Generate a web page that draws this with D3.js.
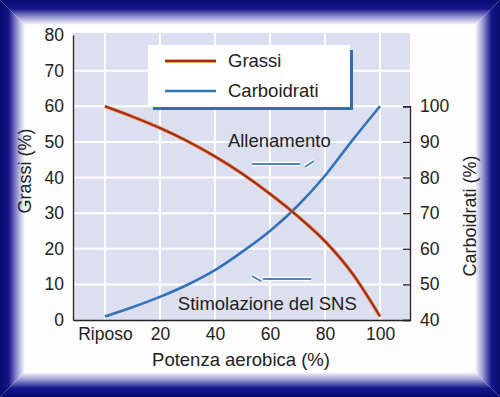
<!DOCTYPE html>
<html>
<head>
<meta charset="utf-8">
<script src="https://cdn.jsdelivr.net/npm/d3@7"></script>
<style>
  body { margin: 0; background: #fff; }
  svg { display: block; font-family: "Liberation Sans", Arial, sans-serif; }
  .axis text { fill: #222; font-size: 17.5px; }
  .axis path, .axis line { stroke: #222; stroke-width: 1.3; }
</style>
</head>
<body>
<svg width="500" height="397"></svg>
<script>
// potenza aerobica (%), 0 = riposo
const potenza = [0, 10, 20, 30, 40, 50, 60, 70, 80, 90, 100];
const grassi = [60, 57.1, 53.9, 50.2, 45.9, 41, 35.4, 29.2, 22.1, 13, 1];
const carboidrati = [41, 43.6, 46.5, 49.9, 54, 59.2, 65, 72, 80.5, 90.5, 100];

const xTicks = [0, 20, 40, 60, 80, 100];
const xTickLabels = ['Riposo', '20', '40', '60', '80', '100'];
const leftTicks = [0, 10, 20, 30, 40, 50, 60, 70, 80];
const rightTicks = [40, 50, 60, 70, 80, 90, 100];

const W = 500, H = 397;
const pLeft = 73, pRight = 410, pTop = 35, pBottom = 320;

const svg = d3.select('svg');
const defs = svg.append('defs');

// --- cornice blu smussata
const navy = '#09096e';
function grad(id, x1, y1, x2, y2) {
  const g = defs.append('linearGradient').attr('id', id)
    .attr('x1', x1).attr('y1', y1).attr('x2', x2).attr('y2', y2);
  g.append('stop').attr('offset', 0).attr('stop-color', navy);
  g.append('stop').attr('offset', 0.35).attr('stop-color', '#16168a');
  g.append('stop').attr('offset', 0.7).attr('stop-color', '#9c9cd6');
  g.append('stop').attr('offset', 1).attr('stop-color', '#ffffff');
}
grad('gTop', 0, 0, 0, 1);
grad('gBot', 0, 1, 0, 0);
grad('gLeft', 0, 0, 1, 0);
grad('gRight', 1, 0, 0, 0);

const b = 25;
svg.append('rect').attr('x', b).attr('y', b).attr('width', W - 2 * b).attr('height', H - 2 * b).attr('fill', '#fdfdfd');
svg.append('polygon').attr('points', `0,0 ${W},0 ${W - b},${b} ${b},${b}`).attr('fill', 'url(#gTop)');
svg.append('polygon').attr('points', `0,${H} ${W},${H} ${W - b},${H - b} ${b},${H - b}`).attr('fill', 'url(#gBot)');
svg.append('polygon').attr('points', `0,0 ${b},${b} ${b},${H - b} 0,${H}`).attr('fill', 'url(#gLeft)');
svg.append('polygon').attr('points', `${W},0 ${W - b},${b} ${W - b},${H - b} ${W},${H}`).attr('fill', 'url(#gRight)');

// --- scale
const x = d3.scaleLinear().domain([-11.6, 110.9]).range([pLeft, pRight]);
const yL = d3.scaleLinear().domain([0, 80]).range([pBottom, pTop]);
const yR = d3.scaleLinear().domain([40, 100]).range([pBottom, yL(60)]);

// sfondo del grafico
svg.append('rect')
  .attr('x', pLeft).attr('y', pTop - 2)
  .attr('width', pRight - pLeft).attr('height', pBottom - pTop + 2)
  .attr('fill', '#dcdfef');

// griglia bianca
svg.append('g').selectAll('line').data(leftTicks.filter(d => d > 0 && d < 80)).enter()
  .append('line')
  .attr('x1', pLeft).attr('x2', pRight)
  .attr('y1', d => yL(d)).attr('y2', d => yL(d))
  .attr('stroke', '#fff').attr('stroke-width', 2);
svg.append('g').selectAll('line').data(xTicks).enter()
  .append('line')
  .attr('x1', d => x(d)).attr('x2', d => x(d))
  .attr('y1', pTop - 2).attr('y2', pBottom)
  .attr('stroke', '#fff').attr('stroke-width', 2);

// assi
svg.append('g').attr('class', 'axis')
  .attr('transform', `translate(${pLeft},0)`)
  .call(d3.axisLeft(yL).tickValues(leftTicks).tickSize(0).tickPadding(9));

svg.append('g').attr('class', 'axis')
  .attr('transform', `translate(${pRight},0)`)
  .call(d3.axisRight(yR).tickValues(rightTicks).tickSize(-7).tickPadding(10));

svg.append('g').attr('class', 'axis')
  .attr('transform', `translate(0,${pBottom})`)
  .call(d3.axisBottom(x).tickValues(xTicks).tickSize(0).tickPadding(8)
    .tickFormat((d, i) => xTickLabels[i]));

// titoli assi
svg.append('text')
  .attr('transform', 'translate(25,171) rotate(-90)')
  .attr('text-anchor', 'middle').attr('dy', '0.35em')
  .attr('font-size', 18).attr('fill', '#222')
  .text('Grassi (%)');

svg.append('text')
  .attr('transform', 'translate(470,216) rotate(-90)')
  .attr('text-anchor', 'middle').attr('dy', '0.35em')
  .attr('font-size', 18).attr('fill', '#222')
  .text('Carboidrati (%)');

svg.append('text')
  .attr('x', 241).attr('y', 366)
  .attr('text-anchor', 'middle')
  .attr('font-size', 18.5).attr('fill', '#222')
  .text('Potenza aerobica (%)');

// curve
const lineG = d3.line().x((d, i) => x(potenza[i])).y(d => yL(d)).curve(d3.curveMonotoneX);
const lineC = d3.line().x((d, i) => x(potenza[i])).y(d => yR(d)).curve(d3.curveMonotoneX);

svg.append('path').attr('d', lineC(carboidrati))
  .attr('fill', 'none').attr('stroke', '#3473ba').attr('stroke-width', 2.6);

svg.append('path').attr('d', lineG(grassi))
  .attr('fill', 'none').attr('stroke', '#e0863a').attr('stroke-width', 3.4);
svg.append('path').attr('d', lineG(grassi))
  .attr('fill', 'none').attr('stroke', '#a52b1c').attr('stroke-width', 2);

// legenda
const lg = svg.append('g');
lg.append('rect').attr('x', 153).attr('y', 50).attr('width', 200).attr('height', 60).attr('fill', '#2f6fba');
lg.append('rect').attr('x', 148).attr('y', 45).attr('width', 202).attr('height', 62).attr('fill', '#fff');
lg.append('line').attr('x1', 165).attr('x2', 216).attr('y1', 61).attr('y2', 61)
  .attr('stroke', '#e0863a').attr('stroke-width', 3.4);
lg.append('line').attr('x1', 165).attr('x2', 216).attr('y1', 61).attr('y2', 61)
  .attr('stroke', '#a52b1c').attr('stroke-width', 2);
lg.append('line').attr('x1', 165).attr('x2', 216).attr('y1', 91).attr('y2', 91)
  .attr('stroke', '#3473ba').attr('stroke-width', 2.6);
lg.append('text').attr('x', 228).attr('y', 67).attr('font-size', 18.5).attr('fill', '#222').text('Grassi');
lg.append('text').attr('x', 228).attr('y', 97).attr('font-size', 18.5).attr('fill', '#222').text('Carboidrati');

// annotazioni
function arrow(x1, x2, y, barb) {
  const p = `M${x(x1)},${yL(y)}H${x(x2)}` + barb;
  svg.append('path').attr('d', p).attr('fill', 'none').attr('stroke', '#fff').attr('stroke-width', 4.5);
  svg.append('path').attr('d', p).attr('fill', 'none').attr('stroke', '#4d86c4').attr('stroke-width', 2);
}
arrow(53.5, 71, 43.8, `M${x(72) + 2},${yL(43.8) + 3}l9,-6`);
arrow(57.5, 75, 11.5, `M${x(53.5)},${yL(11.5) - 3}l9,5`);

svg.append('text').attr('x', x(44.7)).attr('y', 147)
  .attr('font-size', 18.5).attr('fill', '#222').text('Allenamento');
svg.append('text').attr('x', x(26.5)).attr('y', 310)
  .attr('font-size', 18.5).attr('fill', '#222').text('Stimolazione del SNS');
</script>
</body>
</html>
